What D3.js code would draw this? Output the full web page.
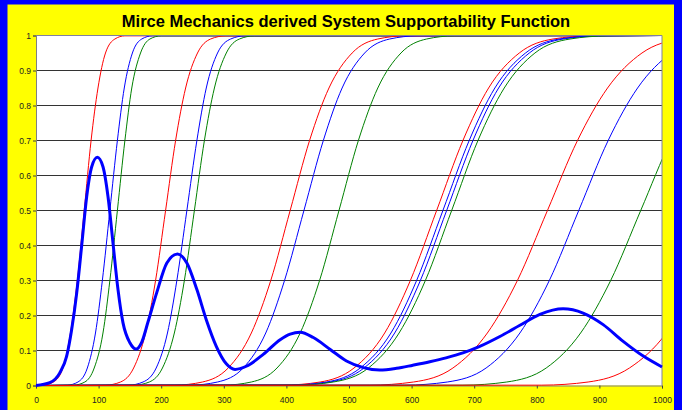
<!DOCTYPE html>
<html>
<head>
<meta charset="utf-8">
<script src="https://cdn.jsdelivr.net/npm/d3@7"></script>
<style>
  html, body { margin: 0; padding: 0; background: #0000ff; }
  svg { display: block; }
</style>
</head>
<body>
<svg id="chart" width="682" height="410"></svg>
<script>
const levels = [0.001, 0.01, 0.05, 0.15, 0.3, 0.5, 0.7, 0.85, 0.95, 0.99, 0.999];

// the kind of each thin curve (maps to red / blue / green)
const curveKind = ["R", "B", "G", "R", "B", "G", "R", "B", "G",
                   "R", "B", "B", "G", "R", "B", "G", "R"];

// time at which each curve reaches the matching level above
const curveTimes = [
    [12, 28, 43, 55, 66, 77, 88, 99, 111, 126, 142],
    [50, 67, 82, 95, 106, 118, 130, 141, 154, 169, 186],
    [60, 78, 93, 107, 118, 130, 142, 153, 167, 182, 200],
    [111, 135, 156, 175, 191, 207, 223, 239, 258, 279, 303],
    [148, 171, 192, 210, 225, 241, 257, 272, 290, 311, 334],
    [157, 181, 202, 221, 237, 253, 269, 285, 304, 325, 349],
    [221, 266, 307, 344, 375, 406, 437, 468, 505, 546, 591],
    [246, 290, 331, 367, 397, 428, 459, 489, 525, 565, 610],
    [299, 344, 385, 422, 453, 484, 515, 546, 583, 624, 669],
    [393, 454, 508, 557, 598, 640, 682, 723, 772, 826, 887],
    [403, 464, 518, 567, 608, 650, 692, 733, 782, 836, 897],
    [409, 470, 524, 573, 614, 656, 698, 739, 788, 842, 903],
    [414, 475, 531, 580, 622, 664, 706, 748, 797, 853, 914],
    [533, 603, 666, 721, 769, 817, 865, 913, 968, 1031, 1101],
    [589, 657, 719, 773, 820, 867, 914, 961, 1015, 1077, 1145],
    [682, 752, 815, 870, 918, 966, 1014, 1062, 1117, 1180, 1250],
    [808, 882, 948, 1007, 1057, 1108, 1159, 1209, 1268, 1334, 1408]
];

// the thick supportability function
const supportT = [0, 22, 38, 49, 57, 65, 73, 81, 89, 98, 107, 115, 123, 131, 139,
    150, 160, 169, 179, 193, 209, 226, 241, 257, 272, 288, 304, 318, 336, 363,
    390, 406, 422, 443, 470, 496, 523, 549, 576, 602, 629, 655, 682, 708, 741,
    773, 805, 842, 874, 906, 938, 970, 1000];
const supportP = [0, 0.008, 0.036, 0.084, 0.16, 0.264, 0.40, 0.54, 0.625, 0.652,
    0.625, 0.54, 0.407, 0.274, 0.179, 0.122, 0.104, 0.124, 0.182, 0.266, 0.35,
    0.376, 0.35, 0.274, 0.188, 0.112, 0.062, 0.046, 0.055, 0.089, 0.131, 0.147,
    0.152, 0.137, 0.103, 0.07, 0.051, 0.044, 0.049, 0.058, 0.068, 0.079, 0.093,
    0.111, 0.14, 0.172, 0.203, 0.219, 0.207, 0.174, 0.126, 0.084, 0.053];

const xTicks = [0, 100, 200, 300, 400, 500, 600, 700, 800, 900, 1000];
const yTicks = [0, 0.1, 0.2, 0.3, 0.4, 0.5, 0.6, 0.7, 0.8, 0.9, 1];

const title = "Mirce Mechanics derived System Supportability Function";

const svg = d3.select("#chart");
const W = 682, H = 410;
const plot = {left: 36, right: 662, top: 35.5, bottom: 385.5};
const font = "Liberation Sans, Arial, sans-serif";

const x = d3.scaleLinear().domain([0, 1000]).range([plot.left, plot.right]);
const y = d3.scaleLinear().domain([0, 1]).range([plot.bottom, plot.top]);
const color = d3.scaleOrdinal().domain(["R", "B", "G"])
    .range(["#ff0000", "#0000ff", "#008000"]);

// yellow chart area inside the blue frame
svg.append("rect")
    .attr("x", 7.5).attr("y", 4.5)
    .attr("width", 674 - 7.5).attr("height", H)
    .attr("fill", "#ffff00");

svg.append("text")
    .attr("x", 346).attr("y", 26.5)
    .attr("text-anchor", "middle")
    .attr("font-family", font)
    .attr("font-weight", "bold")
    .attr("font-size", 16.5)
    .attr("fill", "#000")
    .text(title);

// plot area
svg.append("rect")
    .attr("x", plot.left).attr("y", plot.top)
    .attr("width", plot.right - plot.left)
    .attr("height", plot.bottom - plot.top)
    .attr("fill", "#fff");

svg.append("defs").append("clipPath").attr("id", "clip")
    .append("rect")
    .attr("x", plot.left).attr("y", plot.top - 1)
    .attr("width", plot.right - plot.left)
    .attr("height", plot.bottom - plot.top + 2);

// gridlines
svg.append("g").selectAll("line")
    .data(yTicks.slice(1, -1))
    .join("line")
    .attr("x1", plot.left).attr("x2", plot.right)
    .attr("y1", d => y(d)).attr("y2", d => y(d))
    .attr("stroke", "#333").attr("stroke-width", 1);

// axes
const yAxis = svg.append("g")
    .attr("transform", `translate(${plot.left},0)`)
    .call(d3.axisLeft(y).tickValues(yTicks).tickSize(3).tickPadding(2)
        .tickFormat(d3.format("")));
const xAxis = svg.append("g")
    .attr("transform", `translate(0,${plot.bottom})`)
    .call(d3.axisBottom(x).tickValues(xTicks).tickSize(3).tickPadding(8)
        .tickFormat(d3.format("")));
[yAxis, xAxis].forEach(a => {
    a.select(".domain").attr("stroke", "#808080");
    a.selectAll(".tick line").attr("stroke", "#404040");
    a.selectAll("text")
        .attr("font-family", font).attr("font-size", 8.5).attr("fill", "#222");
});

// thin S-curves
const sLine = d3.line()
    .x(d => x(d[0])).y(d => y(d[1]))
    .curve(d3.curveMonotoneX);

const curves = svg.append("g").attr("clip-path", "url(#clip)");
curveTimes.forEach((times, i) => {
    const pts = [[0, 0]].concat(times.map((t, j) => [t, levels[j]]));
    if (times[times.length - 1] < 1000) pts.push([1000, 1]);
    curves.append("path")
        .datum(pts)
        .attr("d", sLine)
        .attr("fill", "none")
        .attr("stroke", color(curveKind[i]))
        .attr("stroke-width", 1);
});

// border on top / right
svg.append("path")
    .attr("d", `M${plot.left},${plot.top}H${plot.right}V${plot.bottom}`)
    .attr("fill", "none").attr("stroke", "#8080a0").attr("stroke-width", 1);

// thick supportability function
const supLine = d3.line()
    .x((d, i) => x(supportT[i])).y(d => y(d))
    .curve(d3.curveMonotoneX);
svg.append("path")
    .datum(supportP)
    .attr("d", supLine)
    .attr("fill", "none")
    .attr("stroke", "#0000ff")
    .attr("stroke-width", 3)
    .attr("stroke-linejoin", "round");
</script>
</body>
</html>
